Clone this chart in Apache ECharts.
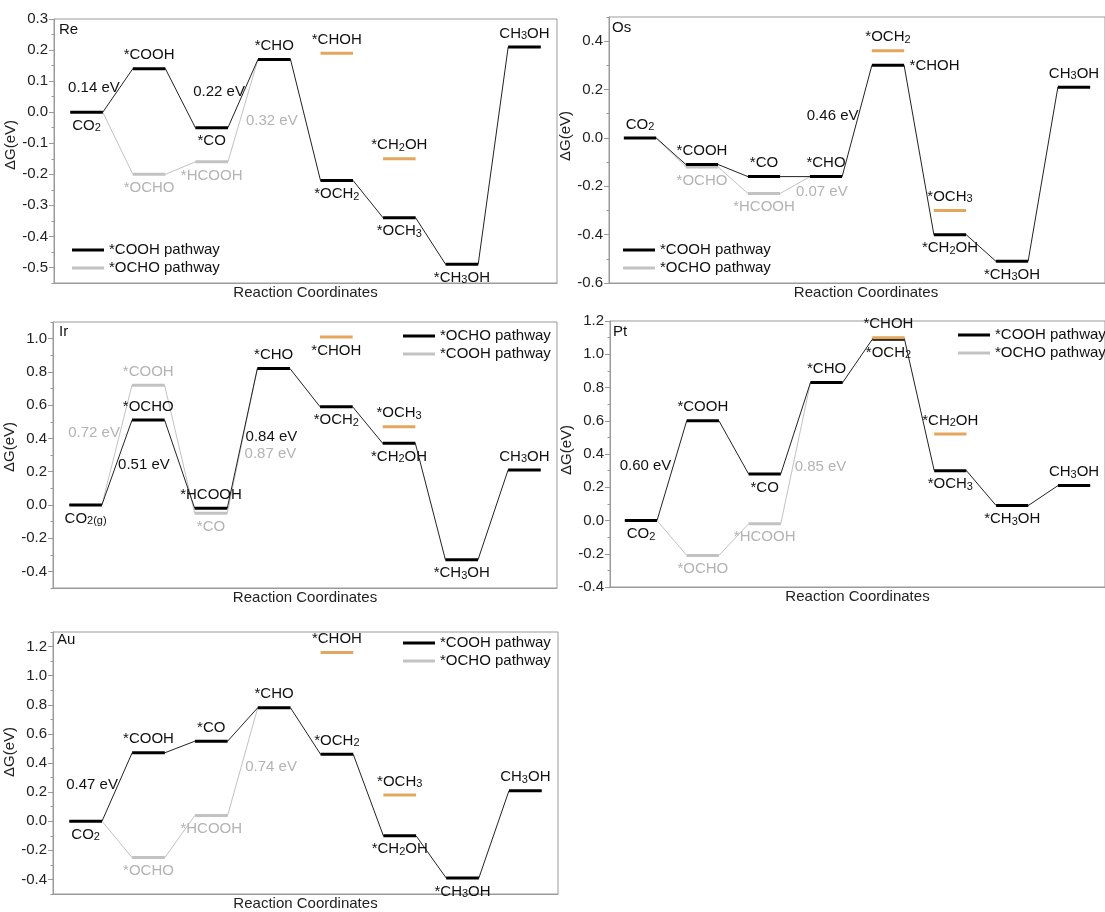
<!DOCTYPE html>
<html>
<head>
<meta charset="utf-8">
<script src="https://cdn.jsdelivr.net/npm/echarts@6/dist/echarts.min.js"></script>
<style>
html, body { margin: 0; padding: 0; background: #fff; }
#chart { width: 1105px; height: 912px; }
</style>
</head>
<body>
<div id="chart"></div>
<script>
// free energies (eV); main path = levels 0..7, alt path = levels 1,2, side (orange) = levels 4,5
var reMainNames = ['CO2', '*COOH', '*CO', '*CHO', '*OCH2', '*OCH3', '*CH3OH', 'CH3OH'];
var reMainVals = [0, 0.14, -0.05, 0.17, -0.22, -0.34, -0.49, 0.21];
var reAltNames = ['*OCHO', '*HCOOH'];
var reAltVals = [-0.20, -0.16];
var reSideNames = ['*CHOH', '*CH2OH'];
var reSideVals = [0.19, -0.15];
var reBarriers = ['0.14 eV', '0.22 eV', '0.32 eV'];
var reTicks = [-0.5, -0.4, -0.3, -0.2, -0.1, 0, 0.1, 0.2, 0.3];

var osMainNames = ['CO2', '*COOH', '*CO', '*CHO', '*CHOH', '*CH2OH', '*CH3OH', 'CH3OH'];
var osMainVals = [0, -0.11, -0.16, -0.16, 0.30, -0.40, -0.51, 0.21];
var osAltNames = ['*OCHO', '*HCOOH'];
var osAltVals = [-0.12, -0.23];
var osSideNames = ['*OCH2', '*OCH3'];
var osSideVals = [0.36, -0.30];
var osBarriers = ['0.46 eV', '0.07 eV'];
var osTicks = [-0.6, -0.4, -0.2, 0, 0.2, 0.4];

var irMainNames = ['CO2(g)', '*OCHO', '*HCOOH', '*CHO', '*OCH2', '*CH2OH', '*CH3OH', 'CH3OH'];
var irMainVals = [0, 0.51, -0.02, 0.82, 0.59, 0.37, -0.33, 0.21];
var irAltNames = ['*COOH', '*CO'];
var irAltVals = [0.72, -0.05];
var irSideNames = ['*CHOH', '*OCH3'];
var irSideVals = [1.01, 0.47];
var irBarriers = ['0.72 eV', '0.51 eV', '0.84 eV', '0.87 eV'];
var irTicks = [-0.4, -0.2, 0, 0.2, 0.4, 0.6, 0.8, 1.0];

var ptMainNames = ['CO2', '*COOH', '*CO', '*CHO', '*OCH2', '*OCH3', '*CH3OH', 'CH3OH'];
var ptMainVals = [0, 0.60, 0.28, 0.83, 1.09, 0.30, 0.09, 0.21];
var ptAltNames = ['*OCHO', '*HCOOH'];
var ptAltVals = [-0.21, -0.02];
var ptSideNames = ['*CHOH', '*CH2OH'];
var ptSideVals = [1.10, 0.52];
var ptBarriers = ['0.60 eV', '0.85 eV'];
var ptTicks = [-0.4, -0.2, 0, 0.2, 0.4, 0.6, 0.8, 1.0, 1.2];

var auMainNames = ['CO2', '*COOH', '*CO', '*CHO', '*OCH2', '*CH2OH', '*CH3OH', 'CH3OH'];
var auMainVals = [0, 0.47, 0.55, 0.78, 0.46, -0.10, -0.39, 0.21];
var auAltNames = ['*OCHO', '*HCOOH'];
var auAltVals = [-0.25, 0.04];
var auSideNames = ['*CHOH', '*OCH3'];
var auSideVals = [1.16, 0.18];
var auBarriers = ['0.47 eV', '0.74 eV'];
var auTicks = [-0.4, -0.2, 0, 0.2, 0.4, 0.6, 0.8, 1.0, 1.2];

var mainLevels = [0, 1, 2, 3, 4, 5, 6, 7];
var altLevels = [1, 2];
var sideLevels = [4, 5];

var FONT = '"Liberation Sans", Arial, sans-serif';
var BLACK = '#000';
var GREY = '#c2c2c2';
var GREY_TXT = '#b3b3b3';
var ORANGE = '#e3a65c';
var AXIS = '#9a9a9a';
var HALF = 0.26;

var RICH = {
    n: {fontSize: 15, fontFamily: FONT, lineHeight: 16},
    s: {fontSize: 11, fontFamily: FONT, lineHeight: 11, verticalAlign: 'bottom'}
};

// turn 'CH3OH' into rich text with the digits as subscripts
function sub(s) {
    return s.split(/(\d+(?:\(g\))?)/).filter(Boolean).map(function(p) {
        return /^\d/.test(p) ? '{s|' + p + '}' : '{n|' + p + '}';
    }).join('');
}

var panels = [
    {
        tag: 'Re', grid: {left: 54, top: 19, width: 503, height: 264}, xr: [-0.52, 7.52],
        yr: [-0.55, 0.3], minor: 0.05, ticks: reTicks, nameGap: 30, yNamePad: 12, xNamePad: 0, tagPos: [59, 22],
        main: [reMainNames, reMainVals], alt: [reAltNames, reAltVals], side: [reSideNames, reSideVals],
        mainPlace: ['bottom', 'top', 'bottom', 'top', 'bottom', 'bottom', 'bottom', 'top'],
        altPlace: ['bottom', 'bottom'], sidePlace: ['top', 'top'],
        legend: ['*COOH pathway', '*OCHO pathway'], legendPos: [72, 242],
        barriers: reBarriers,
        ann: [
            {path: 'main', seg: 0, t: 0.5, align: 'right', dx: 2, dy: -3},
            {path: 'main', seg: 2, t: 0.5, align: 'right', dx: 2, dy: -2},
            {path: 'alt', seg: 2, t: 0.4, align: 'left', dx: 6, dy: 0}
        ]
    },
    {
        tag: 'Os', grid: {left: 609, top: 17, width: 504, height: 266}, xr: [-0.5, 7.5],
        yr: [-0.6, 0.5], minor: 0.1, ticks: osTicks, nameGap: 25, yNamePad: 28, xNamePad: 18, tagPos: [612, 20],
        main: [osMainNames, osMainVals], alt: [osAltNames, osAltVals], side: [osSideNames, osSideVals],
        mainPlace: ['top', 'top', 'top', 'top', 'right', 'bottom', 'bottom', 'top'],
        altPlace: ['bottom', 'bottom'], sidePlace: ['top', 'top'],
        legend: ['*COOH pathway', '*OCHO pathway'], legendPos: [623, 242],
        barriers: osBarriers,
        ann: [
            {path: 'main', seg: 3, t: 0.55, align: 'right', dx: 0, dy: 0},
            {path: 'alt', seg: 2, t: 0.5, align: 'left', dx: 1, dy: 7}
        ]
    },
    {
        tag: 'Ir', grid: {left: 53, top: 322, width: 504, height: 266}, xr: [-0.52, 7.52],
        yr: [-0.5, 1.1], minor: 0.1, ticks: irTicks, nameGap: 23, yNamePad: 16, xNamePad: 0, tagPos: [59, 324],
        main: [irMainNames, irMainVals], alt: [irAltNames, irAltVals], side: [irSideNames, irSideVals],
        mainPlace: ['bottom', 'top', 'top', 'top', 'bottom', 'bottom', 'bottom', 'top'],
        altPlace: ['top', 'bottom'], sidePlace: ['bottom', 'top'],
        legend: ['*OCHO pathway', '*COOH pathway'], legendPos: [403, 328],
        barriers: irBarriers,
        ann: [
            {path: 'alt', seg: 0, t: 0.6, align: 'right', dx: 0, dy: 0},
            {path: 'main', seg: 0, t: 0.47, align: 'left', dx: 2, dy: 0},
            {path: 'main', seg: 2, t: 0.51, align: 'left', dx: 3, dy: 0},
            {path: 'alt', seg: 2, t: 0.41, align: 'left', dx: 5, dy: 0}
        ]
    },
    {
        tag: 'Pt', grid: {left: 610, top: 321, width: 504, height: 266}, xr: [-0.5, 7.5],
        yr: [-0.4, 1.2], minor: 0.1, ticks: ptTicks, nameGap: 27, yNamePad: 8, xNamePad: 0, tagPos: [613, 324],
        main: [ptMainNames, ptMainVals], alt: [ptAltNames, ptAltVals], side: [ptSideNames, ptSideVals],
        mainPlace: ['bottom', 'top', 'bottom', 'top', 'bottom', 'bottom', 'bottom', 'top'],
        altPlace: ['bottom', 'bottom'], sidePlace: ['top', 'top'],
        legend: ['*COOH pathway', '*OCHO pathway'], legendPos: [958, 327],
        barriers: ptBarriers,
        ann: [
            {path: 'main', seg: 0, t: 0.55, align: 'right', dx: -2, dy: 0},
            {path: 'alt', seg: 2, t: 0.4, align: 'left', dx: 2, dy: 0}
        ]
    },
    {
        tag: 'Au', grid: {left: 53, top: 632, width: 505, height: 264}, xr: [-0.52, 7.52],
        yr: [-0.5, 1.3], minor: 0.1, ticks: auTicks, nameGap: 23, yNamePad: 22, xNamePad: 0, tagPos: [57, 632],
        main: [auMainNames, auMainVals], alt: [auAltNames, auAltVals], side: [auSideNames, auSideVals],
        mainPlace: ['bottom', 'top', 'top', 'top', 'top', 'bottom', 'bottom', 'top'],
        altPlace: ['bottom', 'bottom'], sidePlace: ['top', 'top'],
        legend: ['*COOH pathway', '*OCHO pathway'], legendPos: [403, 635],
        barriers: auBarriers,
        ann: [
            {path: 'main', seg: 0, t: 0.53, align: 'right', dx: 0, dy: 0},
            {path: 'alt', seg: 2, t: 0.45, align: 'left', dx: 4, dy: 0}
        ]
    }
];

function stepSeries(k, name, levels, vals, names, places, color, textColor, z) {
    return {
        type: 'custom', name: name, xAxisIndex: k, yAxisIndex: 2 * k, z: z,
        itemStyle: {color: color}, silent: true, animation: false,
        data: levels.map(function(l, i) { return [l, vals[i]]; }),
        renderItem: function(params, api) {
            var l = api.value(0), v = api.value(1);
            var a = api.coord([l - HALF, v]);
            var b = api.coord([l + HALF, v]);
            return {
                type: 'line',
                shape: {x1: a[0], y1: a[1], x2: b[0], y2: b[1]},
                style: {stroke: color, lineWidth: 3},
                textContent: {
                    style: {text: sub(names[params.dataIndex]), rich: RICH, fill: textColor, fontSize: 15, fontFamily: FONT}
                },
                textConfig: {position: places[params.dataIndex], distance: 4}
            };
        }
    };
}

function linkSeries(k, pts, color, z) {
    return {
        type: 'line', xAxisIndex: k, yAxisIndex: 2 * k, z: z, data: pts,
        symbol: 'none', silent: true, animation: false,
        lineStyle: {color: color, width: 1}
    };
}

var option = {
    backgroundColor: '#fff',
    animation: false,
    grid: [], xAxis: [], yAxis: [], series: [], legend: [], title: []
};

panels.forEach(function(p, k) {
    var mainVals = p.main[1];
    var altFull = [mainVals[0], p.alt[1][0], p.alt[1][1], mainVals[3]];
    var mainPts = [], altPts = [];
    mainLevels.forEach(function(l, i) {
        mainPts.push([l - HALF, mainVals[i]], [l + HALF, mainVals[i]]);
    });
    altPts.push([0 + HALF, altFull[0]]);
    altLevels.forEach(function(l, i) {
        altPts.push([l - HALF, p.alt[1][i]], [l + HALF, p.alt[1][i]]);
    });
    altPts.push([3 - HALF, altFull[3]]);

    option.grid.push({
        left: p.grid.left, top: p.grid.top, width: p.grid.width, height: p.grid.height,
        show: true, borderColor: AXIS, borderWidth: 1, backgroundColor: 'transparent'
    });
    option.xAxis.push({
        gridIndex: k, type: 'value', min: p.xr[0], max: p.xr[1],
        axisLine: {show: true, onZero: false, lineStyle: {color: AXIS}},
        axisTick: {show: false}, axisLabel: {show: false}, splitLine: {show: false},
        name: 'Reaction Coordinates', nameLocation: 'middle', nameGap: 2,
        nameTextStyle: {fontSize: 15, color: '#222', fontFamily: FONT, verticalAlign: 'top', padding: [0, 0, 0, p.xNamePad]}
    });
    option.yAxis.push({
        gridIndex: k, type: 'value', position: 'left', min: p.yr[0], max: p.yr[1], interval: p.minor,
        axisLine: {show: true, onZero: false, lineStyle: {color: AXIS}},
        axisTick: {show: true, length: 2.5, lineStyle: {color: AXIS}},
        axisLabel: {
            customValues: p.ticks, margin: 6, fontSize: 15, color: '#222', fontFamily: FONT,
            formatter: function(v) { return (Math.abs(v) < 1e-9 ? 0 : v).toFixed(1); }
        },
        splitLine: {show: false},
        name: '\u0394G(eV)', nameLocation: 'middle', nameGap: p.nameGap,
        nameTextStyle: {fontSize: 15, color: '#222', fontFamily: FONT, padding: [0, 0, 0, p.yNamePad]}
    });
    option.yAxis.push({
        gridIndex: k, type: 'value', position: 'left', min: p.yr[0], max: p.yr[1],
        axisLine: {show: false, onZero: false},
        axisTick: {show: true, length: 5, customValues: p.ticks, lineStyle: {color: AXIS}},
        axisLabel: {show: false}, splitLine: {show: false}
    });

    option.series.push(linkSeries(k, altPts, GREY, 1));
    option.series.push(stepSeries(k, p.legend[1], altLevels, p.alt[1], p.alt[0], p.altPlace, GREY, GREY_TXT, 2));
    option.series.push(linkSeries(k, mainPts, '#222', 3));
    option.series.push(stepSeries(k, p.legend[0], mainLevels, mainVals, p.main[0], p.mainPlace, BLACK, '#111', 4));
    option.series.push(stepSeries(k, p.tag + ' side', sideLevels, p.side[1], p.side[0], p.sidePlace, ORANGE, '#111', 4));

    // barrier labels anchored on the connecting segment they describe
    var anchors = p.ann.map(function(a) {
        var vals = a.path === 'main' ? mainVals : altFull;
        var x0 = a.seg + HALF, x1 = a.seg + 1 - HALF;
        var y0 = vals[a.seg], y1 = vals[a.seg + 1];
        return [x0 + (x1 - x0) * a.t, y0 + (y1 - y0) * a.t];
    });
    option.series.push({
        type: 'custom', xAxisIndex: k, yAxisIndex: 2 * k, z: 5, silent: true, animation: false,
        data: anchors,
        renderItem: function(params, api) {
            var a = p.ann[params.dataIndex];
            var c = api.coord([api.value(0), api.value(1)]);
            return {
                type: 'text', x: c[0] + a.dx, y: c[1] + a.dy,
                style: {
                    text: p.barriers[params.dataIndex], fontSize: 15, fontFamily: FONT,
                    fill: a.path === 'main' ? '#111' : GREY_TXT,
                    align: a.align, verticalAlign: 'middle'
                }
            };
        }
    });

    option.legend.push({
        orient: 'vertical', left: p.legendPos[0], top: p.legendPos[1], padding: 0,
        itemGap: 2, itemWidth: 32, itemHeight: 3, icon: 'rect', selectedMode: false,
        textStyle: {fontSize: 15, color: '#111', fontFamily: FONT, lineHeight: 16},
        data: [
            {name: p.legend[0], itemStyle: {color: BLACK}},
            {name: p.legend[1], itemStyle: {color: GREY}}
        ]
    });
    option.title.push({
        text: p.tag, left: p.tagPos[0], top: p.tagPos[1], padding: 0,
        textStyle: {fontSize: 15, fontWeight: 'normal', color: '#111', fontFamily: FONT}
    });
});

var chart = echarts.init(document.getElementById('chart'), null, {renderer: 'canvas'});
chart.setOption(option);
</script>
</body>
</html>
